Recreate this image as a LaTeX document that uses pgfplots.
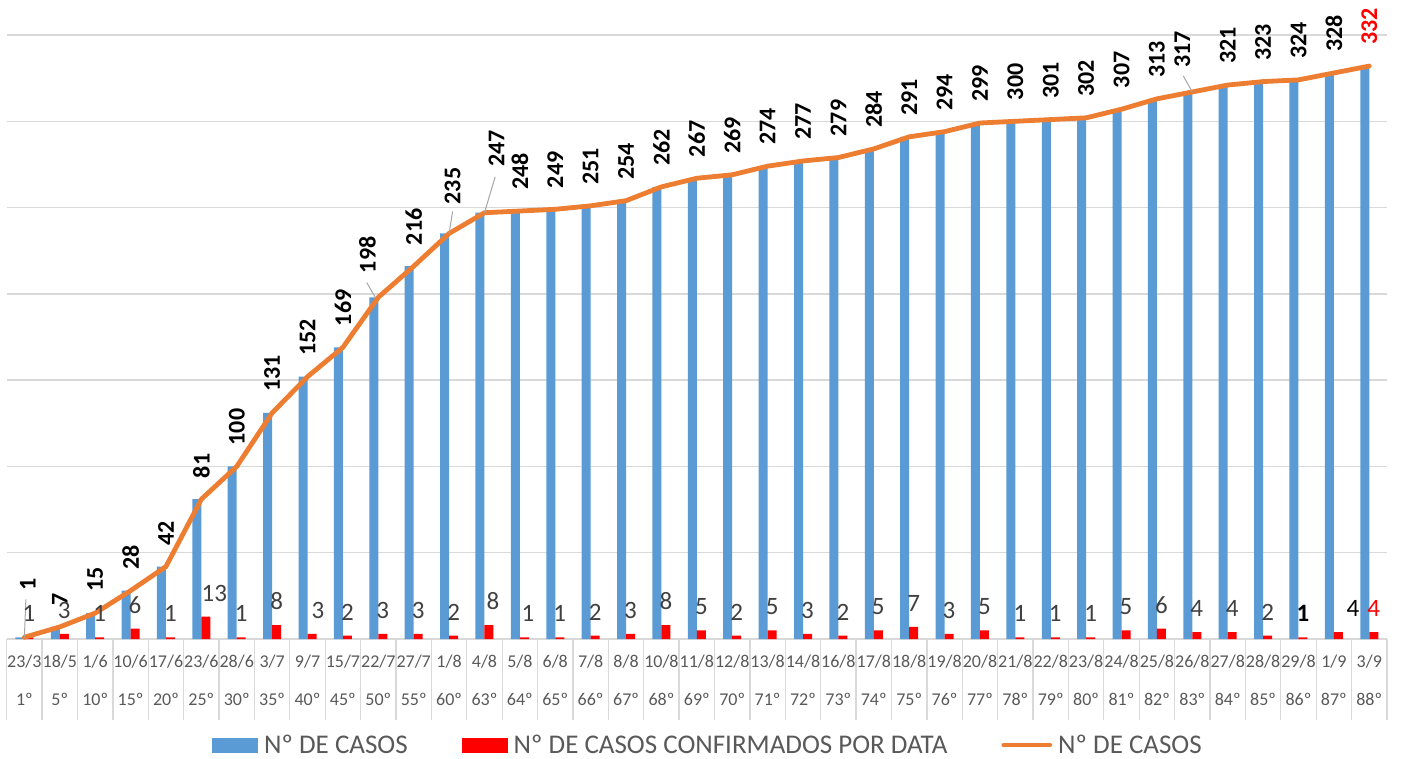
\documentclass[border=0pt]{standalone}
\usepackage{fontspec}
\setmainfont{Carlito}
\usepackage{pgfplots}
\usepackage{pgfplotstable}
\pgfplotsset{compat=1.18}
\definecolor{blueC}{HTML}{5B9BD5}
\definecolor{redC}{HTML}{FF0000}
\definecolor{orangeC}{HTML}{ED7D31}
\definecolor{gridC}{HTML}{D9D9D9}
\definecolor{labC}{HTML}{404040}
\definecolor{tickC}{HTML}{595959}
\definecolor{leadC}{HTML}{A6A6A6}
\pgfplotstableread{
x c d
0 1 1
1 7 3
2 15 1
3 28 6
4 42 1
5 81 13
6 100 1
7 131 8
8 152 3
9 169 2
10 198 3
11 216 3
12 235 2
13 247 8
14 248 1
15 249 1
16 251 2
17 254 3
18 262 8
19 267 5
20 269 2
21 274 5
22 277 3
23 279 2
24 284 5
25 291 7
26 294 3
27 299 5
28 300 1
29 301 1
30 302 1
31 307 5
32 313 6
33 317 4
34 321 4
35 323 2
36 324 1
37 328 4
38 332 4
}\data
% blue value labels, standard placement
\pgfplotstableread{
x c
1 7
2 15
3 28
4 42
5 81
6 100
7 131
8 152
9 169
11 216
14 248
15 249
16 251
17 254
18 262
19 267
20 269
21 274
22 277
23 279
24 284
25 291
26 294
27 299
28 300
29 301
30 302
31 307
32 313
34 321
35 323
36 324
37 328
}\bstd
% red value labels, standard placement
\pgfplotstableread{
x d
0 1
1 3
2 1
3 6
4 1
6 1
7 8
9 2
10 3
11 3
12 2
15 1
16 2
17 3
18 8
19 5
20 2
21 5
22 3
23 2
24 5
25 7
26 3
27 5
28 1
29 1
30 1
31 5
32 6
33 4
34 4
35 2
}\rstd
\begin{document}
\begin{tikzpicture}
\begin{axis}[
  scale only axis, width=1380.3pt, height=604pt,
  xmin=-0.5, xmax=38.5, ymin=0, ymax=350,
  clip=false,
  axis line style={draw=none},
  ytick={0,50,...,350}, yticklabels={}, ytick style={draw=none},
  ymajorgrids, grid style={gridC, line width=1.3pt},
  xtick={-0.5,0.5,...,38.5},
  x tick label as interval,
  xticklabels={{23/3\\1º},{18/5\\5º},{1/6\\10º},{10/6\\15º},{17/6\\20º},{23/6\\25º},{28/6\\30º},{3/7\\35º},{9/7\\40º},{15/7\\45º},{22/7\\50º},{27/7\\55º},{1/8\\60º},{4/8\\63º},{5/8\\64º},{6/8\\65º},{7/8\\66º},{8/8\\67º},{10/8\\68º},{11/8\\69º},{12/8\\70º},{13/8\\71º},{14/8\\72º},{16/8\\73º},{17/8\\74º},{18/8\\75º},{19/8\\76º},{20/8\\77º},{21/8\\78º},{22/8\\79º},{23/8\\80º},{24/8\\81º},{25/8\\82º},{26/8\\83º},{27/8\\84º},{28/8\\85º},{29/8\\86º},{1/9\\87º},{3/9\\88º}},
  xtick pos=left,
  tick align=outside,
  major tick length=81pt,
  xtick style={gridC, line width=1.3pt},
  xticklabel style={font=\fontsize{18}{38}\selectfont, text=tickC, align=center, anchor=north, inner sep=0pt, yshift=65pt},
  legend columns=3,
  legend cell align=left,
  legend style={at={(0,0)}, anchor=west, xshift=205.3pt, yshift=-106pt, draw=none, fill=none, inner sep=0pt,
    font=\fontsize{27}{30}\selectfont, text=tickC,
    /tikz/every odd column/.append style={column sep=4pt},
    /tikz/every even column/.append style={column sep=52pt}},
  bluelab/.style 2 args={forget plot, draw=none, mark=none, point meta=explicit symbolic, nodes near coords,
    nodes near coords style={xshift=#1, yshift=#2, rotate=90, anchor=west, inner sep=0pt, text=black, font=\fontsize{24}{28}\selectfont\bfseries}},
  redlab/.style={forget plot, draw=none, mark=none, point meta=explicit symbolic, nodes near coords,
    nodes near coords style={xshift=#1, yshift=15.5pt, anchor=base, inner sep=0pt, text=labC, font=\fontsize{25}{28}\selectfont}},
]
\addplot[ybar, bar width=9pt, bar shift=-4.5pt, fill=blueC, draw=none,
  legend image code/.code={\fill[blueC] (0pt,-7.5pt) rectangle (46pt,7.5pt);}]
  table[x=x,y=c]{\data};
\addlegendentry{Nº DE CASOS}
\addplot[ybar, bar width=9pt, bar shift=4.5pt, fill=redC, draw=none,
  legend image code/.code={\fill[redC] (0pt,-7.5pt) rectangle (46pt,7.5pt);}]
  table[x=x,y=d]{\data};
\addlegendentry{Nº DE CASOS CONFIRMADOS POR DATA}
\addplot[orangeC, line width=4.8pt, line join=round, line cap=round, mark=none,
  legend image code/.code={\draw[orangeC, line width=4.8pt, line cap=round] (0pt,0pt) -- (46pt,0pt);}]
  table[x=x,y=c]{\data};
\addlegendentry{Nº DE CASOS}
% leader lines
\draw[leadC, line width=1pt] (axis cs:0,1) -- ++(1.5pt,38pt);
\draw[leadC, line width=1pt] (axis cs:10,198) ++(-3pt,0pt) -- ++(-8.5pt,14.6pt);
\draw[leadC, line width=1pt] (axis cs:12,235) -- ++(3.5pt,22pt);
\draw[leadC, line width=1pt] (axis cs:13,247) -- ++(10.7pt,36pt);
\draw[leadC, line width=1pt] (axis cs:33,317) -- ++(-9pt,16pt);
% blue (cumulative) labels
\addplot[bluelab={0pt}{21pt}] table[x=x,y=c,meta=c]{\bstd};
\addplot[bluelab={3.5pt}{47pt}] coordinates {(0,1)[1]};
\addplot[bluelab={-11pt}{24pt}] coordinates {(10,198)[198]};
\addplot[bluelab={3.5pt}{29pt}] coordinates {(12,235)[235]};
\addplot[bluelab={12pt}{46pt}] coordinates {(13,247)[247]};
\addplot[bluelab={-10pt}{24pt}] coordinates {(33,317)[317]};
\addplot[bluelab={0pt}{21pt}, nodes near coords style={text=redC}] coordinates {(38,332)[332]};
% red (daily) labels
\addplot[redlab=4.5pt] table[x=x,y=d,meta=d]{\rstd};
\addplot[redlab=13pt] coordinates {(5,13)[13]};
\addplot[redlab=10.5pt] coordinates {(8,3)[3]};
\addplot[redlab=8.5pt] coordinates {(13,8)[8]};
\addplot[redlab=8pt] coordinates {(14,1)[1]};
\addplot[redlab=4.5pt, nodes near coords style={text=black, font=\fontsize{25}{28}\selectfont\bfseries}] coordinates {(36,1)[1]};
\addplot[redlab=19pt, nodes near coords style={text=black}] coordinates {(37,4)[4]};
\addplot[redlab=4.5pt, nodes near coords style={text=redC}] coordinates {(38,4)[4]};
\end{axis}
\pgfresetboundingbox
\path (current axis.south west) ++(-6.7pt,-119pt) rectangle ++(1402pt,758pt);
\end{tikzpicture}
\end{document}
